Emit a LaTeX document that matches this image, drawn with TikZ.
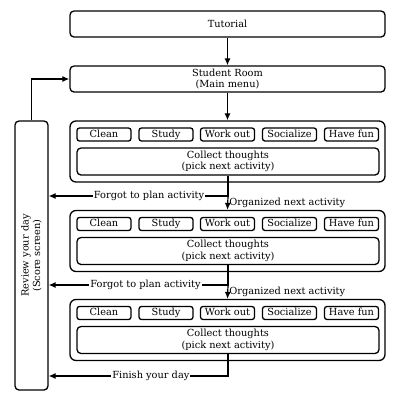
\documentclass[tikz,border=0pt]{standalone}
\usepackage{fontspec}
\setmainfont{DejaVu Serif}
\usetikzlibrary{arrows.meta}

\tikzset{
  box/.style={draw, rounded corners=4pt, line width=1.3pt, align=center, inner sep=1pt},
  act/.style={draw, rounded corners=2.5pt, line width=1.3pt, minimum width=54pt, minimum height=13pt, inner sep=0pt, text height=7.5pt, text depth=2pt},
  flow/.style={line width=1.2pt, -{Latex[length=7pt,width=6pt]}},
  lbl/.style={fill=white, inner sep=1pt}
}

\begin{document}
\begin{tikzpicture}[x=1pt, y=-1pt, font=\fontsize{9.8}{11.5}\selectfont]
    \useasboundingbox (0,0) rectangle (400,400);
    \coordinate (F1) at (228,196);
    \coordinate (F2) at (228,285);
    \coordinate (F3) at (228,376);
    \node[box, minimum width=315pt, minimum height=26pt] (tut) at (227.5,24) {Tutorial};
    \node[box, minimum width=315pt, minimum height=26pt] (room) at (227.5,79) {Student Room\\(Main menu)};
    \node[box, rotate=90, minimum width=269pt, minimum height=33pt] (rev) at (31.5,255.5) {Review your day\\(Score screen)};
    % three days blocks
    \foreach \b/\y in {1/151.5, 2/241, 3/330} {
        \node[box, rounded corners=6pt, minimum width=315pt, minimum height=61pt] (out\b) at (227.5,\y) {};
        \foreach \a/\x/\t in {1/104/Clean, 2/166/Study, 3/227.5/Work out, 4/289.5/Socialize, 5/351.5/Have fun}
            \node[act] (act\b\a) at (\x,\y-17) {\t};
        \node[box, minimum width=302pt, minimum height=27pt] (col\b) at (228,\y+10) {Collect thoughts\\(pick next activity)};
    }
    \draw[flow] (tut) -- (room);
    \draw[flow] (room) -- (out1);
    \draw[flow] (rev.east) |- (room.west);
    \draw[flow] (col1.south) -- (F1) -- (rev.south |- F1) node[lbl, pos=0.44] {Forgot to plan activity};
    \draw[flow] (F1) -- (out2.north) node[midway, right, inner sep=1pt] {Organized next activity};
    \draw[flow] (col2.south) -- (F2) -- (rev.south |- F2) node[lbl, pos=0.46] {Forgot to plan activity};
    \draw[flow] (F2) -- (out3.north) node[midway, right, inner sep=1pt] {Organized next activity};
    \draw[flow] (col3.south) -- (F3) -- (rev.south |- F3) node[lbl, pos=0.43] {Finish your day};
\end{tikzpicture}
\end{document}
